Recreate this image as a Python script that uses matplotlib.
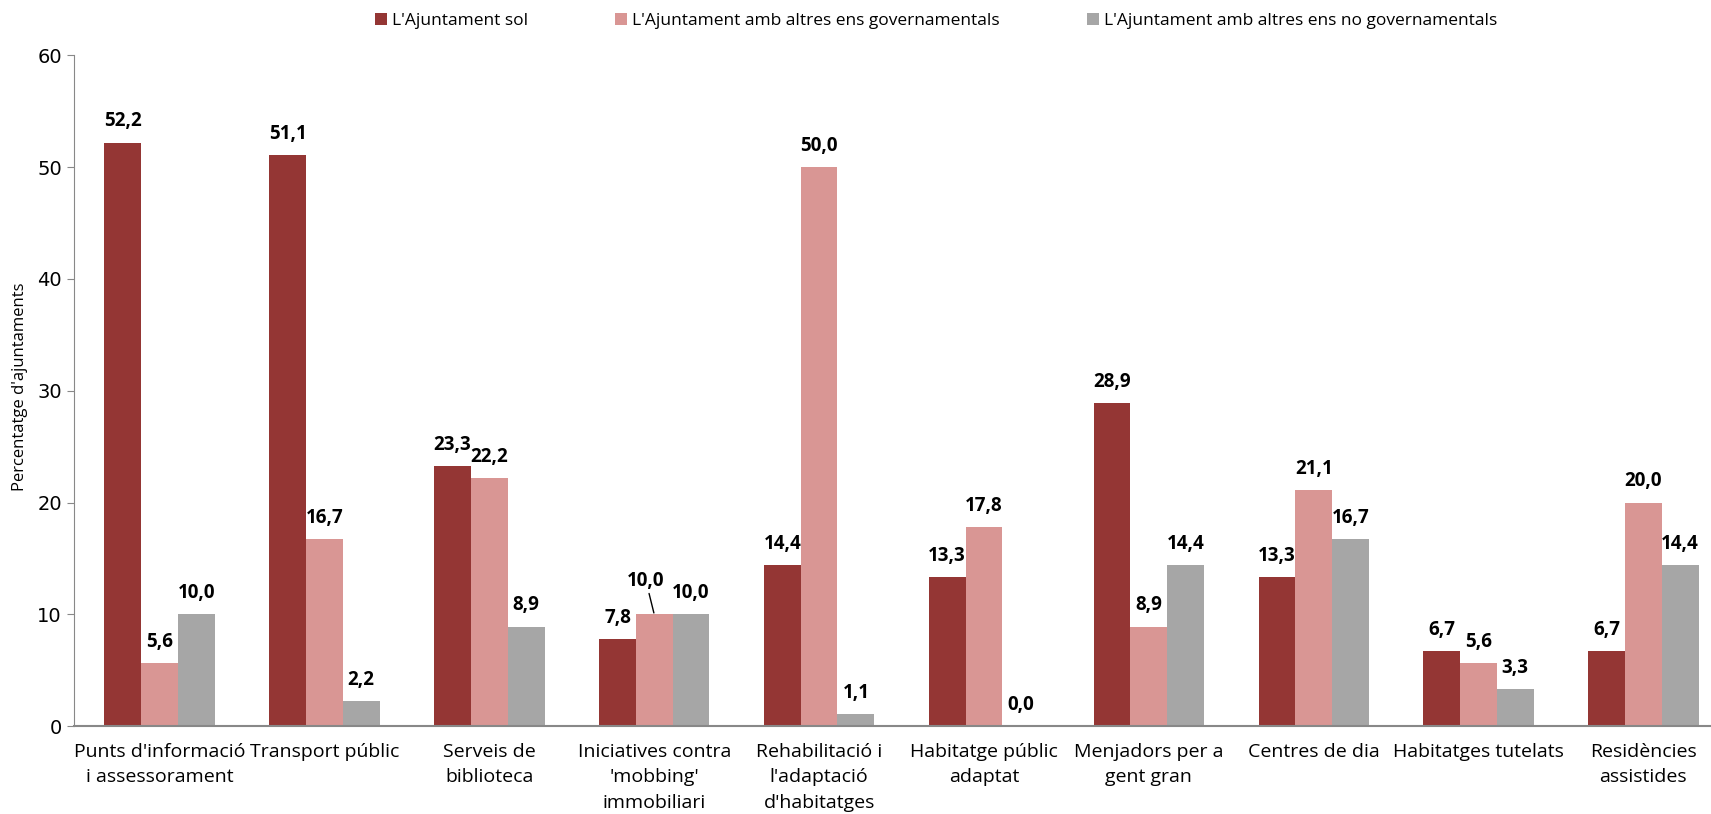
import matplotlib.pyplot as plt
import numpy as np

categories = [
    "Punts d'informació\ni assessorament",
    "Transport públic",
    "Serveis de\nbiblioteca",
    "Iniciatives contra\n'mobbing'\nimmobiliari",
    "Rehabilitació i\nl'adaptació\nd'habitatges",
    "Habitatge públic\nadaptat",
    "Menjadors per a\ngent gran",
    "Centres de dia",
    "Habitatges tutelats",
    "Residències\nassistides",
]
sol = [52.2, 51.1, 23.3, 7.8, 14.4, 13.3, 28.9, 13.3, 6.7, 6.7]
governamentals = [5.6, 16.7, 22.2, 10.0, 50.0, 17.8, 8.9, 21.1, 5.6, 20.0]
no_governamentals = [10.0, 2.2, 8.9, 10.0, 1.1, 0.0, 14.4, 16.7, 3.3, 14.4]
series_names = [
    "L'Ajuntament sol",
    "L'Ajuntament amb altres ens governamentals",
    "L'Ajuntament amb altres ens no governamentals",
]
colors = ["#943634", "#D99694", "#A6A6A6"]

plt.rcParams["font.family"] = ["Open Sans", "DejaVu Sans"]

fig = plt.figure(figsize=(17.11, 8.14), dpi=100)
ax = fig.add_axes([0.043, 0.108, 0.957, 0.824])

x = np.arange(len(categories))
width = 0.223
all_series = [sol, governamentals, no_governamentals]

handles = []
for i, (vals, name, col) in enumerate(zip(all_series, series_names, colors)):
    pos = x + (i - 1) * width
    bars = ax.bar(pos, vals, width, color=col, label=name, zorder=2)
    handles.append(bars)
    for j, (px, v) in enumerate(zip(pos, vals)):
        label = f"{v:.1f}".replace(".", ",")
        if i == 1 and j == 3:
            # this one sits up-left with a leader line (overlaps otherwise)
            ax.annotate(label, xy=(px, v), xytext=(-6, 17), textcoords="offset points",
                        ha="center", va="bottom", fontsize=13.5, fontweight="bold",
                        arrowprops=dict(arrowstyle="-", color="black", lw=1,
                                        shrinkA=0, shrinkB=1))
        else:
            ax.annotate(label, xy=(px, v), xytext=(0, 8), textcoords="offset points",
                        ha="center", va="bottom", fontsize=13.5, fontweight="bold")

ax.set_xlim(-0.522, 9.41)
ax.set_ylim(0, 60)
ax.set_yticks(range(0, 61, 10))
ax.set_xticks(x)
ax.set_xticklabels(categories, fontsize=14, linespacing=1.55)
ax.tick_params(axis="x", length=0, pad=12)
ax.tick_params(axis="y", direction="out", length=5, color="#888888", labelsize=14)
for lbl in ax.get_yticklabels():
    lbl.set_fontfamily("DejaVu Sans")
fig.text(20 / 1711, 0.525, "Percentatge d'ajuntaments", rotation=90,
         ha="center", va="center", fontsize=12)

ax.spines["top"].set_visible(False)
ax.spines["right"].set_visible(False)
ax.spines["left"].set_color("#888888")
ax.spines["bottom"].set_color("#888888")
ax.spines["bottom"].set_linewidth(1.5)

fig.legend(handles=handles, labels=series_names, loc="upper center",
           bbox_to_anchor=(0.547, 1.003), ncol=3, frameon=False, fontsize=12.5,
           handlelength=0.7, handleheight=0.7, handletextpad=0.3, columnspacing=5.0)

plt.savefig("out.png", dpi=100)
plt.close()
